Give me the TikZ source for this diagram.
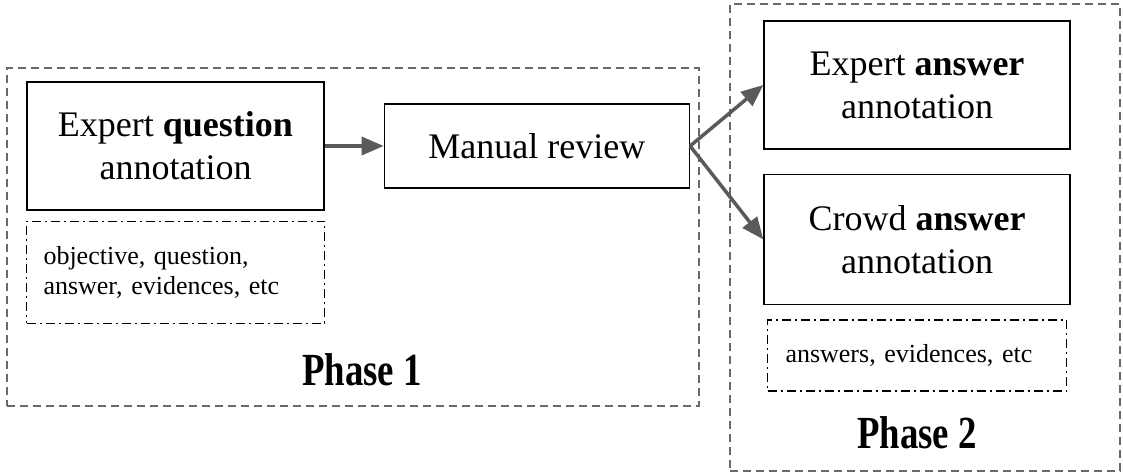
\documentclass[tikz,border=0pt]{standalone}
\usepackage{fontspec}
\setmainfont{Liberation Serif}
\newfontfamily\phasefont[FakeStretch=0.8]{Liberation Serif}
\usepackage{xcolor}
\usepackage{tikz}
\usetikzlibrary{positioning,arrows.meta}
\definecolor{framegray}{RGB}{105,105,105}
\definecolor{arrowgray}{RGB}{90,90,90}

\begin{document}
\begin{tikzpicture}[x=1pt, y=-1pt,
  annbox/.style={rectangle, draw=black, line width=1.4pt, align=center, inner sep=0pt, font=\fontsize{36}{43}\selectfont},
  notebox/.style={rectangle, draw=black, line width=1.4pt, dash pattern=on 9pt off 4pt on 2pt off 4pt, inner sep=0pt, font=\fontsize{26}{30}\selectfont},
  phasebox/.style={rectangle, draw=framegray, line width=1.5pt, dash pattern=on 8pt off 5pt, inner sep=0pt},
  phaselabel/.style={font=\phasefont\bfseries\fontsize{46}{50}\selectfont, inner sep=0pt, anchor=base},
  flow/.style={-{Triangle[length=22pt, width=18pt]}, line width=3.5pt, arrowgray}]
  \useasboundingbox (0,0) rectangle (1123,473);

  \node[phasebox, minimum width=692pt, minimum height=338pt] (phaseone) at (353,237) {};
  \node[phasebox, minimum width=390pt, minimum height=467pt] (phasetwo) at (925,237.5) {};

  \node[annbox, minimum width=297pt, minimum height=128pt] (qann) at (175.5,146) {Expert \textbf{question}\\annotation};
  \node[notebox, minimum width=298pt, minimum height=102pt, text width=264pt, align=left, below=10pt of qann] (qnote) {objective, question,\\answer, evidences, etc};
  \node[annbox, minimum width=305pt, minimum height=84pt, right=59pt of qann] (review) {Manual review};
  \node[annbox, minimum width=306pt, minimum height=128pt] (eann) at (917,85) {Expert \textbf{answer}\\annotation};
  \node[annbox, minimum width=306pt, minimum height=130pt, below=24pt of eann] (cann) {Crowd \textbf{answer}\\annotation};
  \node[notebox, minimum width=299pt, minimum height=71pt, text width=263pt, align=left, below=14pt of cann] (anote) {answers, evidences, etc};

  \node[phaselabel] (phaseonelabel) at (362,385) {Phase 1};
  \node[phaselabel] (phasetwolabel) at (917,448) {Phase 2};

  \draw[flow] (qann.east) -- (review.west);
  \draw[flow] (review.east) -- (eann.west);
  \draw[flow] (review.east) -- (cann.west);
\end{tikzpicture}
\end{document}
